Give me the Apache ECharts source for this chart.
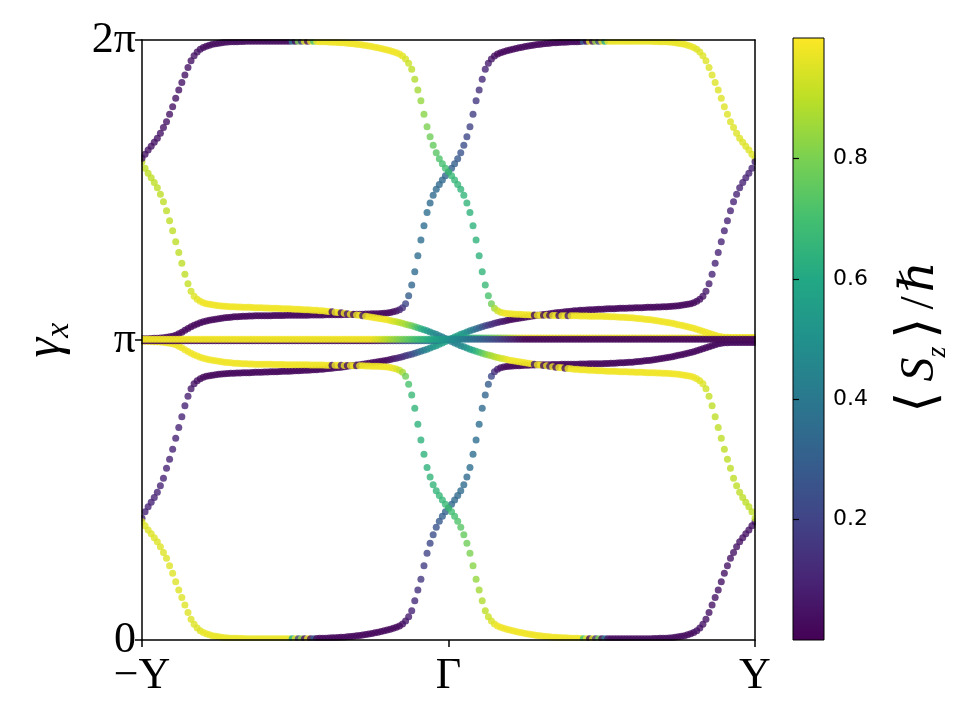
<!DOCTYPE html>
<html><head><meta charset="utf-8">
<script src="https://cdn.jsdelivr.net/npm/echarts@6/dist/echarts.min.js"></script>
<style>html,body{margin:0;padding:0;background:#fff}#c{width:960px;height:720px}</style>
</head><body><div id="c"></div>
<script>
// k-path sample index 0..200 : -Y .. Gamma .. Y ; gamma_x in degrees (0..360 = 0..2pi) ; Sz in percent
const xTickLabels = {0:'\u2212Y', 100:'\u0393', 200:'Y'};
const yTickLabels = {0:'0', 180:'\u03c0', 360:'2\u03c0'};
const cbTicks = [0.2,0.4,0.6,0.8];

const u1 = [289,291.5,294,296.3,298.6,301,304,307.5,311,315.5,
320,325,330,334.5,339,343.5,347.5,350.5,352.8,354.4,
355.5,356.3,356.9,357.4,357.8,358.1,358.4,358.6,358.8,358.9,
359,359,359.1,359.1,359.2,359.2,359.2,359.3,359.3,359.3,
359.3,359.3,359.3,359.3,359.3,359.3,359.3,359.3,359.3,359.3,
359.3,359.3,359.3,359.3,359.3,359.2,359.2,359.1,359,359,
358.9,358.8,358.7,358.6,358.5,358.4,358.3,358.1,357.9,357.7,
357.5,357.3,357,356.7,356.4,356.1,355.7,355.3,354.9,354.5,
354,353.5,353,352.4,351.6,350.4,348.6,346,342.5,336.5,
330,323.5,315.5,308,302,296.8,292.3,288.7,285.7,283.1,
280.8,278.5,276,273.3,270.4,266.8,262.2,256.5,248.5,240,
230.5,221,213,206.5,201.8,199,197.5,196.7,196.2,195.9,
195.7,195.6,195.5,195.4,195.3,195.2,195.1,195,195,194.9,
194.9,194.8,194.8,194.8,194.7,194.7,194.7,194.6,194.6,194.6,
194.5,194.5,194.5,194.4,194.4,194.4,194.3,194.3,194.3,194.2,
194.2,194.1,194.1,194,193.9,193.8,193.7,193.6,193.5,193.4,
193.3,193.1,192.9,192.7,192.5,192.3,192.1,191.8,191.5,191.2,
190.9,190.6,190.3,190,189.6,189.2,188.8,188.4,188,187.5,
187,186.4,185.8,185.2,184.6,184,183.4,182.8,182.3,181.9,
181.7,181.6,181.5,181.5,181.5,181.5,181.5,181.5,181.5,181.5,
181.5];
const u1s = [5,5,5,5,5,5,5,5,5,5,
5,5,5,5,5,5,5,5,5,5,
3,3,3,3,3,3,3,3,3,3,
3,3,3,3,3,3,3,3,3,3,
3,3,3,3,3,3,3,3,3,40,
3,80,15,95,3,97,70,98,98,98,
98,98,98,98,98,98,98,98,98,98,
98,98,98,98,98,98,98,98,98,98,
98,98,98,98,98,96,94,92,90,88,
86,84,82,80,78,76,74,72,70,69,
68,67,66,66,65,65,65,64,64,64,
64,65,67,71,78,86,92,95,97,98,
98,98,98,98,98,98,98,98,5,98,
98,5,98,5,98,98,5,98,98,8,
98,98,98,98,98,98,98,98,98,98,
98,98,98,98,98,98,98,98,98,98,
98,98,98,98,98,98,98,98,98,98,
98,98,98,98,98,98,98,98,98,98,
98,98,98,98,98,98,98,98,98,98,
98,98,98,98,98,98,98,98,98,98,
98];

const u2 = [287,283,280,277.3,274.5,271.3,267.5,263,257.5,251.5,
245.5,239,232.5,226,219.5,213.8,209.3,206.3,204.4,203.2,
202.4,201.8,201.4,201.1,200.8,200.6,200.4,200.2,200.1,200,
199.9,199.8,199.8,199.7,199.6,199.6,199.5,199.4,199.4,199.3,
199.2,199.2,199.1,199,199,198.9,198.8,198.8,198.7,198.6,
198.5,198.4,198.3,198.2,198.1,198,197.9,197.8,197.6,197.5,
197.3,197.1,196.9,196.7,196.5,196.3,196,195.8,195.5,195.3,
195,194.8,194.5,194.2,193.9,193.6,193.3,193,192.7,192.4,
192.1,191.7,191.3,190.9,190.5,190,189.5,189,188.5,188,
187.4,186.8,186.2,185.5,184.8,184.1,183.4,182.6,181.8,180.9,
180,179.1,178.2,177.4,176.6,175.9,175.2,174.5,173.8,173.2,
172.6,172,171.5,171,170.5,170,169.5,169.1,168.7,168.3,
167.9,167.6,167.3,167,166.7,166.4,166.1,165.8,165.5,165.2,
165,164.7,164.5,164.2,164,163.7,163.5,163.3,163.1,162.9,
162.7,162.5,162.4,162.2,162.1,162,161.9,161.8,161.7,161.6,
161.5,161.4,161.3,161.2,161.2,161.1,161,161,160.9,160.8,
160.8,160.7,160.6,160.6,160.5,160.4,160.4,160.3,160.2,160.2,
160.1,160,159.9,159.8,159.6,159.4,159.2,158.9,158.6,158.2,
157.6,156.8,155.6,153.7,150.7,146.2,140.5,134,127.5,121,
114.5,108.5,103,97,92.5,88.7,85.5,82.7,80,77,
73];
const u2s = [90,90,90,90,90,90,90,90,90,90,
90,90,90,90,90,91,93,95,96,97,
98,98,98,98,98,98,98,98,98,98,
98,98,98,98,98,98,98,98,98,98,
98,98,98,98,98,98,98,98,98,98,
98,98,98,98,98,98,98,98,98,98,
98,98,5,98,98,5,98,8,98,5,
98,98,8,98,98,98,98,98,98,98,
98,96,94,92,90,88,86,83,79,74,
69,64,59,55,51,48,46,44,43,42,
42,42,43,44,46,48,51,55,59,64,
69,74,79,83,86,88,90,92,94,96,
98,98,98,98,98,98,98,98,8,98,
98,5,98,8,98,5,98,98,5,98,
98,98,98,98,98,98,98,98,98,98,
98,98,98,98,98,98,98,98,98,98,
98,98,98,98,98,98,98,98,98,98,
98,98,98,98,98,98,98,98,98,98,
98,97,96,95,93,91,90,90,90,90,
90,90,90,90,90,90,90,90,90,90,
90];

const u3 = [180.8,180.8,180.8,180.9,181,181.1,181.2,181.4,181.6,181.9,
182.3,182.9,183.7,184.7,185.8,186.9,187.9,188.8,189.6,190.3,
190.9,191.4,191.8,192.2,192.5,192.8,193.1,193.3,193.5,193.7,
193.9,194,194.1,194.2,194.3,194.4,194.4,194.5,194.5,194.5,
194.6,194.6,194.6,194.7,194.7,194.7,194.7,194.8,194.8,194.8,
194.8,194.9,194.9,194.9,194.9,195,195,195,195,195,
195.1,195.1,195.1,195.2,195.2,195.2,195.3,195.3,195.3,195.4,
195.4,195.5,195.5,195.6,195.6,195.7,195.7,195.8,195.9,196,
196.2,196.5,196.9,197.4,198.1,199.3,201.8,206.5,213,221,
230.5,240,248.5,256.5,262.2,266.8,270.4,273.3,276,278.5,
280.8,283.1,285.7,288.7,292.3,296.8,302,308,315.5,323.5,
330,336.5,342.5,346,348.6,350.4,351.6,352.4,353,353.5,
354,354.5,354.9,355.3,355.7,356.1,356.4,356.7,357,357.3,
357.5,357.7,357.9,358.1,358.3,358.4,358.5,358.6,358.7,358.8,
358.9,359,359,359.1,359.2,359.2,359.3,359.3,359.3,359.3,
359.3,359.3,359.3,359.3,359.3,359.3,359.3,359.3,359.3,359.3,
359.3,359.3,359.3,359.3,359.2,359.2,359.2,359.1,359.1,359,
359,358.9,358.8,358.6,358.4,358.1,357.8,357.4,356.9,356.3,
355.5,354.4,352.8,350.5,347.5,343.5,339,334.5,330,325,
320,315.5,311,307.5,304,301,298.6,296.3,294,291.5,
289];
const u3s = [2,2,2,2,2,2,2,2,2,2,
2,2,2,2,2,2,2,2,2,2,
2,2,2,2,2,2,2,2,2,2,
2,2,2,2,2,2,2,2,2,2,
2,2,2,2,2,2,2,2,2,2,
2,2,2,2,2,2,2,2,2,2,
2,2,2,2,2,2,2,2,2,2,
2,2,2,2,2,2,2,2,2,2,
2,2,3,5,8,14,22,29,33,35,
36,36,36,36,35,35,35,34,34,33,
32,31,30,28,26,24,22,20,18,16,
14,12,10,8,6,4,2,2,2,2,
2,2,2,2,2,2,2,2,2,2,
2,2,2,2,2,2,2,2,2,2,
2,2,2,2,30,3,97,5,85,20,
97,60,97,97,97,97,97,97,97,97,
97,97,97,97,97,97,97,97,97,97,
97,97,97,97,97,97,97,97,97,97,
97,95,95,95,95,95,95,95,95,95,
95,95,95,95,95,95,95,95,95,95,
95];

const u4 = [73,77,80,82.7,85.5,88.7,92.5,97,103,108.5,
114.5,121,127.5,134,140.5,146.2,150.7,153.7,155.6,156.8,
157.6,158.2,158.6,158.9,159.2,159.4,159.6,159.8,159.9,160,
160.1,160.2,160.2,160.3,160.4,160.4,160.5,160.6,160.6,160.7,
160.8,160.8,160.9,161,161,161.1,161.2,161.2,161.3,161.4,
161.5,161.6,161.7,161.8,161.9,162,162.1,162.2,162.4,162.5,
162.7,162.9,163.1,163.3,163.5,163.7,164,164.2,164.5,164.7,
165,165.2,165.5,165.8,166.1,166.4,166.7,167,167.3,167.6,
167.9,168.3,168.7,169.1,169.5,170,170.5,171,171.5,172,
172.6,173.2,173.8,174.5,175.2,175.9,176.6,177.4,178.2,179.1,
180,180.9,181.8,182.6,183.4,184.1,184.8,185.5,186.2,186.8,
187.4,188,188.5,189,189.5,190,190.5,190.9,191.3,191.7,
192.1,192.4,192.7,193,193.3,193.6,193.9,194.2,194.5,194.8,
195,195.3,195.5,195.8,196,196.3,196.5,196.7,196.9,197.1,
197.3,197.5,197.6,197.8,197.9,198,198.1,198.2,198.3,198.4,
198.5,198.6,198.7,198.8,198.8,198.9,199,199,199.1,199.2,
199.2,199.3,199.4,199.4,199.5,199.6,199.6,199.7,199.8,199.8,
199.9,200,200.1,200.2,200.4,200.6,200.8,201.1,201.4,201.8,
202.4,203.2,204.4,206.3,209.3,213.8,219.5,226,232.5,239,
245.5,251.5,257.5,263,267.5,271.3,274.5,277.3,280,283,
287];
const u4s = [10,10,10,10,10,10,10,10,10,10,
10,10,10,10,10,9,7,5,4,3,
2,2,2,2,2,2,2,2,2,2,
2,2,2,2,2,2,2,2,2,2,
2,2,2,2,2,2,2,2,2,2,
2,2,2,2,2,2,2,2,2,2,
2,2,2,2,2,2,2,2,2,2,
2,2,2,2,2,2,2,2,2,2,
2,4,6,8,10,12,14,17,21,26,
31,36,41,45,49,52,54,56,57,58,
58,58,57,56,54,52,49,45,41,36,
31,26,21,17,14,12,10,8,6,4,
2,2,2,2,2,2,2,2,2,2,
2,2,2,2,2,2,2,2,2,2,
2,2,2,2,2,2,2,2,2,2,
2,2,2,2,2,2,2,2,2,2,
2,2,2,2,2,2,2,2,2,2,
2,2,2,2,2,2,2,2,2,2,
2,3,4,5,7,9,10,10,10,10,
10,10,10,10,10,10,10,10,10,10,
10];

const l1 = [71,68.5,66,63.7,61.4,59,56,52.5,49,44.5,
40,35,30,25.5,21,16.5,12.5,9.5,7.2,5.6,
4.5,3.7,3.1,2.6,2.2,1.9,1.6,1.4,1.2,1.1,
1,1,0.9,0.9,0.8,0.8,0.8,0.7,0.7,0.7,
0.7,0.7,0.7,0.7,0.7,0.7,0.7,0.7,0.7,0.7,
0.7,0.7,0.7,0.7,0.7,0.8,0.8,0.9,1,1,
1.1,1.2,1.3,1.4,1.5,1.6,1.7,1.9,2.1,2.3,
2.5,2.7,3,3.3,3.6,3.9,4.3,4.7,5.1,5.5,
6,6.5,7,7.6,8.4,9.6,11.4,14,17.5,23.5,
30,36.5,44.5,52,58,63.2,67.7,71.3,74.3,76.9,
79.2,81.5,84,86.7,89.6,93.2,97.8,103.5,111.5,120,
129.5,139,147,153.5,158.2,161,162.5,163.3,163.8,164.1,
164.3,164.4,164.5,164.6,164.7,164.8,164.9,165,165,165.1,
165.1,165.2,165.2,165.2,165.3,165.3,165.3,165.4,165.4,165.4,
165.5,165.5,165.5,165.6,165.6,165.6,165.7,165.7,165.7,165.8,
165.8,165.9,165.9,166,166.1,166.2,166.3,166.4,166.5,166.6,
166.7,166.9,167.1,167.3,167.5,167.7,167.9,168.2,168.5,168.8,
169.1,169.4,169.7,170,170.4,170.8,171.2,171.6,172,172.5,
173,173.6,174.2,174.8,175.4,176,176.6,177.2,177.7,178.1,
178.3,178.4,178.5,178.5,178.5,178.5,178.5,178.5,178.5,178.5,
178.5];
const l1s = [95,95,95,95,95,95,95,95,95,95,
95,95,95,95,95,95,95,95,95,95,
97,97,97,97,97,97,97,97,97,97,
97,97,97,97,97,97,97,97,97,97,
97,97,97,97,97,97,97,97,97,60,
97,20,85,5,97,3,30,2,2,2,
2,2,2,2,2,2,2,2,2,2,
2,2,2,2,2,2,2,2,2,2,
2,2,2,2,2,4,6,8,10,12,
14,16,18,20,22,24,26,28,30,31,
32,33,34,34,35,35,35,36,36,36,
36,35,33,29,22,14,8,5,3,2,
2,2,2,2,2,2,2,2,2,2,
2,2,2,2,2,2,2,2,2,2,
2,2,2,2,2,2,2,2,2,2,
2,2,2,2,2,2,2,2,2,2,
2,2,2,2,2,2,2,2,2,2,
2,2,2,2,2,2,2,2,2,2,
2,2,2,2,2,2,2,2,2,2,
2,2,2,2,2,2,2,2,2,2,
2];

const l3 = [179.2,179.2,179.2,179.1,179,178.9,178.8,178.6,178.4,178.1,
177.7,177.1,176.3,175.3,174.2,173.1,172.1,171.2,170.4,169.7,
169.1,168.6,168.2,167.8,167.5,167.2,166.9,166.7,166.5,166.3,
166.1,166,165.9,165.8,165.7,165.6,165.6,165.5,165.5,165.5,
165.4,165.4,165.4,165.3,165.3,165.3,165.3,165.2,165.2,165.2,
165.2,165.1,165.1,165.1,165.1,165,165,165,165,165,
164.9,164.9,164.9,164.8,164.8,164.8,164.7,164.7,164.7,164.6,
164.6,164.5,164.5,164.4,164.4,164.3,164.3,164.2,164.1,164,
163.8,163.5,163.1,162.6,161.9,160.7,158.2,153.5,147,139,
129.5,120,111.5,103.5,97.8,93.2,89.6,86.7,84,81.5,
79.2,76.9,74.3,71.3,67.7,63.2,58,52,44.5,36.5,
30,23.5,17.5,14,11.4,9.6,8.4,7.6,7,6.5,
6,5.5,5.1,4.7,4.3,3.9,3.6,3.3,3,2.7,
2.5,2.3,2.1,1.9,1.7,1.6,1.5,1.4,1.3,1.2,
1.1,1,1,0.9,0.8,0.8,0.7,0.7,0.7,0.7,
0.7,0.7,0.7,0.7,0.7,0.7,0.7,0.7,0.7,0.7,
0.7,0.7,0.7,0.7,0.8,0.8,0.8,0.9,0.9,1,
1,1.1,1.2,1.4,1.6,1.9,2.2,2.6,3.1,3.7,
4.5,5.6,7.2,9.5,12.5,16.5,21,25.5,30,35,
40,44.5,49,52.5,56,59,61.4,63.7,66,68.5,
71];
const l3s = [98,98,98,98,98,98,98,98,98,98,
98,98,98,98,98,98,98,98,98,98,
98,98,98,98,98,98,98,98,98,98,
98,98,98,98,98,98,98,98,98,98,
98,98,98,98,98,98,98,98,98,98,
98,98,98,98,98,98,98,98,98,98,
98,98,5,98,98,8,98,5,98,98,
6,98,98,98,98,98,98,98,98,98,
98,98,97,95,92,86,78,71,67,65,
64,64,64,64,65,65,65,66,66,67,
68,69,70,72,74,76,78,80,82,84,
86,88,90,92,94,96,98,98,98,98,
98,98,98,98,98,98,98,98,98,98,
98,98,98,98,98,98,98,98,98,98,
98,98,98,98,70,97,3,95,15,80,
3,40,3,3,3,3,3,3,3,3,
3,3,3,3,3,3,3,3,3,3,
3,3,3,3,3,3,3,3,3,3,
3,5,5,5,5,5,5,5,5,5,
5,5,5,5,5,5,5,5,5,5,
5];

const pia = [180.5,180.5,180.5,180.5,180.5,180.5,180.5,180.5,180.5,180.5,
180.5,180.5,180.5,180.5,180.5,180.5,180.5,180.5,180.5,180.5,
180.5,180.5,180.5,180.5,180.5,180.5,180.5,180.5,180.5,180.5,
180.5,180.5,180.5,180.5,180.5,180.5,180.5,180.5,180.5,180.5,
180.5,180.5,180.5,180.5,180.5,180.5,180.5,180.5,180.5,180.5,
180.5,180.5,180.5,180.5,180.5,180.5,180.5,180.5,180.5,180.5,
180.5,180.5,180.5,180.5,180.5,180.5,180.5,180.5,180.5,180.5,
180.5,180.5,180.5,180.5,180.5,180.5,180.5,180.5,180.5,180.5,
180.5,180.5,180.5,180.5,180.5,180.5,180.5,180.5,180.5,180.5,
180.5,180.5,180.5,180.5,180.5,180.5,180.5,180.5,180.5,180.5,
180.5,180.5,180.5,180.5,180.5,180.5,180.5,180.5,180.5,180.5,
180.5,180.5,180.5,180.5,180.5,180.5,180.5,180.5,180.5,180.5,
180.5,180.5,180.5,180.5,180.5,180.5,180.5,180.5,180.5,180.5,
180.5,180.5,180.5,180.5,180.5,180.5,180.5,180.5,180.5,180.5,
180.5,180.5,180.5,180.5,180.5,180.5,180.5,180.5,180.5,180.5,
180.5,180.5,180.5,180.5,180.5,180.5,180.5,180.5,180.5,180.5,
180.5,180.5,180.5,180.5,180.5,180.5,180.5,180.5,180.5,180.5,
180.5,180.5,180.5,180.5,180.5,180.5,180.5,180.5,180.5,180.5,
180.5,180.5,180.5,180.5,180.5,180.5,180.5,180.5,180.5,180.5,
180.5,180.5,180.5,180.5,180.5,180.5,180.5,180.5,180.5,180.5,
180.5];
const pias = [98,98,98,98,98,98,98,98,98,98,
98,98,98,98,98,98,98,98,98,98,
98,98,98,98,98,98,98,98,98,98,
98,98,98,98,98,98,98,98,98,98,
98,98,98,98,98,98,98,98,98,98,
98,98,98,98,98,98,98,98,98,98,
98,98,98,98,98,98,98,98,98,98,
98,98,98,98,98,98,96,95,93,91,
89,87,85,83,81,79,77,75,73,71,
69,67,65,63,61,59,57,55,53,52,
50,48,47,45,43,41,39,37,35,33,
31,29,27,25,23,21,19,17,15,13,
11,9,7,5,4,2,2,2,2,2,
2,2,2,2,2,2,2,2,2,2,
2,2,2,2,2,2,2,2,2,2,
2,2,2,2,2,2,2,2,2,2,
2,2,2,2,2,2,2,2,2,2,
2,2,2,2,2,2,2,2,2,2,
2,2,2,2,2,2,2,2,2,2,
2,2,2,2,2,2,2,2,2,2,
2];

const pib = [179.5,179.5,179.5,179.5,179.5,179.5,179.5,179.5,179.5,179.5,
179.5,179.5,179.5,179.5,179.5,179.5,179.5,179.5,179.5,179.5,
179.5,179.5,179.5,179.5,179.5,179.5,179.5,179.5,179.5,179.5,
179.5,179.5,179.5,179.5,179.5,179.5,179.5,179.5,179.5,179.5,
179.5,179.5,179.5,179.5,179.5,179.5,179.5,179.5,179.5,179.5,
179.5,179.5,179.5,179.5,179.5,179.5,179.5,179.5,179.5,179.5,
179.5,179.5,179.5,179.5,179.5,179.5,179.5,179.5,179.5,179.5,
179.5,179.5,179.5,179.5,179.5,179.5,179.5,179.5,179.5,179.5,
179.5,179.5,179.5,179.5,179.5,179.5,179.5,179.5,179.5,179.5,
179.5,179.5,179.5,179.5,179.5,179.5,179.6,179.8,180,180.2,
180.4,180.6,180.8,181,181.1,181.2,181.2,181.2,181.2,181.2,
181.2,181.2,181.2,181.2,181.2,181.2,181.2,181.2,181.2,181.2,
181.2,181.2,181.2,181.2,181.2,181.2,181.2,181.2,181.2,181.2,
181.2,181.2,181.2,181.2,181.2,181.2,181.2,181.2,181.2,181.2,
181.2,181.2,181.2,181.2,181.2,181.2,181.2,181.2,181.2,181.2,
181.2,181.2,181.2,181.2,181.2,181.2,181.2,181.2,181.2,181.2,
181.2,181.2,181.2,181.2,181.2,181.2,181.2,181.2,181.2,181.2,
181.2,181.2,181.2,181.2,181.2,181.2,181.2,181.2,181.2,181.2,
181.2,181.2,181.2,181.2,181.2,181.2,181.2,181.2,181.2,181.2,
181.2,181.2,181.2,181.2,181.2,181.2,181.2,181.2,181.2,181.2,
181.2];
const pibs = [2,2,2,2,2,2,2,2,2,2,
2,2,2,2,2,2,2,2,2,2,
2,2,2,2,2,2,2,2,2,2,
2,2,2,2,2,2,2,2,2,2,
2,2,2,2,2,2,2,2,2,2,
2,2,2,2,2,2,2,2,2,2,
2,2,2,2,2,2,2,2,2,2,
2,2,2,2,2,2,4,5,7,9,
11,13,15,17,19,21,23,25,27,29,
31,33,35,37,39,41,43,45,47,48,
50,52,53,55,57,59,61,63,65,67,
69,71,73,75,77,79,81,83,85,87,
89,91,93,95,96,98,98,98,98,98,
98,98,98,98,98,98,98,98,98,98,
98,98,98,98,98,98,98,98,98,98,
98,98,98,98,98,98,98,98,98,98,
98,98,98,98,98,98,98,98,98,98,
98,98,98,98,98,98,98,98,98,98,
98,98,98,98,98,98,98,98,98,98,
98,98,98,98,98,98,98,98,98,98,
98];

const viridis = ['#440154','#482475','#414487','#355f8d','#2a788e','#21918c','#22a884','#44bf70','#7ad151','#bddf26','#fde725'];
const tracks = [[u3,u3s],[u4,u4s],[l1,l1s],[l3,l3s],[u2,u2s],[u1,u1s],[pib,pibs],[pia,pias]];

const series = tracks.map(function(t){
  return {
    type:'scatter', xAxisIndex:0, yAxisIndex:0, symbol:'circle', symbolSize:7,
    silent:true, z:2,
    data: t[0].map(function(y,i){ return [i, y, t[1][i]]; })
  };
});

const serif = "'Liberation Serif','DejaVu Serif',serif";
const axLine = {show:true, onZero:false, lineStyle:{color:'#000', width:1.5}};

const chart = echarts.init(document.getElementById('c'));
chart.setOption({
  animation:false,
  backgroundColor:'#fff',
  grid:[
    {left:142, top:40, width:613, height:600, containLabel:false, outerBoundsMode:'none'},
    {left:793, top:38, width:31, height:602, containLabel:false, outerBoundsMode:'none'}
  ],
  visualMap:{type:'continuous', show:false, min:0, max:100, dimension:2,
    seriesIndex:[0,1,2,3,4,5,6,7], inRange:{color:viridis}},
  xAxis:[
    {gridIndex:0, type:'value', min:0, max:200, interval:100, position:'bottom', z:20,
     axisLine:axLine, axisTick:{show:true, inside:false, length:7, lineStyle:{color:'#000', width:1.5}},
     axisLabel:{formatter:function(v){return xTickLabels[v]||'';}, fontFamily:serif, fontSize:44, color:'#000', margin:14},
     splitLine:{show:false}},
    {gridIndex:0, type:'value', min:0, max:200, position:'top', z:20,
     axisLine:axLine, axisTick:{show:false}, axisLabel:{show:false}, splitLine:{show:false}},
    {gridIndex:1, type:'value', min:0, max:1, show:false}
  ],
  yAxis:[
    {gridIndex:0, type:'value', min:0, max:360, interval:180, position:'left', z:20,
     axisLine:axLine, axisTick:{show:true, length:7, lineStyle:{color:'#000', width:1.5}},
     axisLabel:{formatter:function(v){return yTickLabels[v]||'';}, fontFamily:serif, fontSize:44, color:'#000', margin:6},
     splitLine:{show:false},
     name:'{g|\u03b3}{s|x}', nameLocation:'middle', nameRotate:90, nameGap:66,
     nameTextStyle:{color:'#000', rich:{
       g:{fontFamily:serif, fontStyle:'italic', fontSize:50, lineHeight:60, verticalAlign:'middle', color:'#000'},
       s:{fontFamily:serif, fontStyle:'italic', fontSize:34, lineHeight:60, verticalAlign:'bottom', color:'#000'}}}},
    {gridIndex:0, type:'value', min:0, max:360, position:'right', z:20,
     axisLine:axLine, axisTick:{show:false}, axisLabel:{show:false}, splitLine:{show:false}},
    {gridIndex:1, type:'value', min:0, max:1, position:'right', z:20,
     axisLine:{show:false},
     axisTick:{show:true, length:6, customValues:cbTicks, lineStyle:{color:'#000', width:1.2}},
     axisLabel:{customValues:cbTicks, formatter:function(v){return v.toFixed(1);}, fontFamily:"'DejaVu Sans',sans-serif", fontSize:22, color:'#000', margin:9},
     splitLine:{show:false},
     name:'{a|\u27e8}{s|S}{z|z}{a|\u27e9}{b|/}{h|\u210f}', nameLocation:'middle', nameRotate:90, nameGap:64,
     nameTextStyle:{color:'#000', rich:{
       a:{fontFamily:serif, fontSize:54, lineHeight:64, verticalAlign:'middle', color:'#000', padding:[0,4,0,4]},
       s:{fontFamily:serif, fontStyle:'italic', fontSize:48, lineHeight:64, verticalAlign:'middle', color:'#000', padding:[0,0,0,6]},
       z:{fontFamily:serif, fontStyle:'italic', fontSize:28, lineHeight:64, verticalAlign:'bottom', color:'#000', padding:[0,4,0,0]},
       b:{fontFamily:serif, fontSize:48, lineHeight:64, verticalAlign:'middle', color:'#000', padding:[0,4,0,4]},
       h:{fontFamily:serif, fontStyle:'italic', fontSize:48, lineHeight:64, verticalAlign:'middle', color:'#000'}}}}
  ],
  graphic:[
    {type:'rect', z:10, silent:true, shape:{x:100, y:0, width:700, height:39.2}, style:{fill:'#fff'}},
    {type:'rect', z:10, silent:true, shape:{x:100, y:640.8, width:700, height:80}, style:{fill:'#fff'}},
    {type:'rect', z:10, silent:true, shape:{x:0, y:0, width:141.2, height:720}, style:{fill:'#fff'}},
    {type:'rect', z:10, silent:true, shape:{x:755.8, y:0, width:32, height:720}, style:{fill:'#fff'}},
    {type:'rect', z:10, silent:true, shape:{x:793, y:38, width:31, height:602},
     style:{stroke:'#000', lineWidth:1, fill:{type:'linear', x:0, y:1, x2:0, y2:0,
       colorStops: viridis.map(function(c,i){return {offset:i/10, color:c};})}}}
  ],
  series: series
});
</script>
</body></html>
